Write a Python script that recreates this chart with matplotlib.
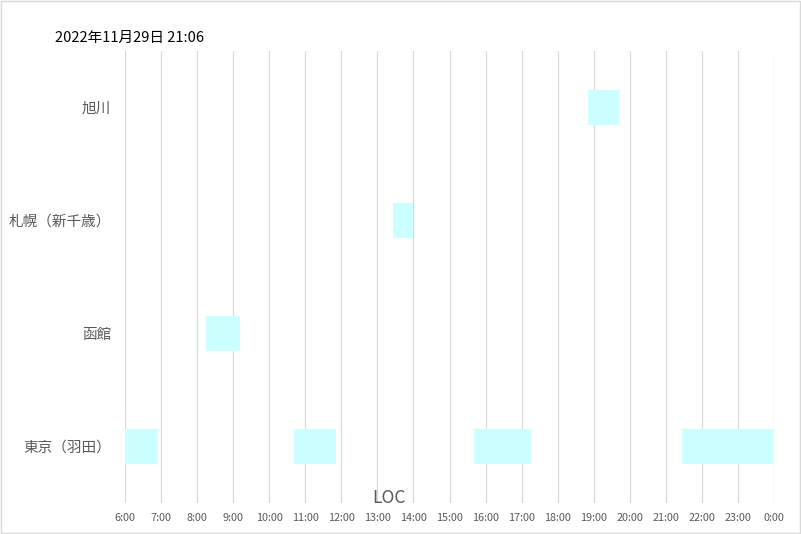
import matplotlib.pyplot as plt
from matplotlib.patches import Rectangle

plt.rcParams['font.family'] = ['Noto Sans CJK JP', 'DejaVu Sans']

# 空港（下から上の順）
airports = ['東京（羽田）', '函館', '札幌（新千歳）', '旭川']

# 各空港の時間帯（開始, 終了）[時]
tokyo_start = [6.0, 10.68, 15.68, 21.45]
tokyo_end = [6.92, 11.85, 17.25, 24.0]
hakodate_start = [8.25]
hakodate_end = [9.18]
sapporo_start = [13.43]
sapporo_end = [14.0]
asahikawa_start = [18.83]
asahikawa_end = [19.7]

hours = list(range(6, 25))
hour_labels = [f"{h % 24}:00" for h in hours]

title = "2022年11月29日 21:06"
axis_title = "LOC"

starts = [tokyo_start, hakodate_start, sapporo_start, asahikawa_start]
ends = [tokyo_end, hakodate_end, sapporo_end, asahikawa_end]

fig = plt.figure(figsize=(8.01, 5.34), dpi=100)
ax = fig.add_axes([125 / 801, 1 - 503 / 534, (774 - 125) / 801, (503 - 51) / 534])

for i, (s, e) in enumerate(zip(starts, ends)):
    widths = [b - a for a, b in zip(s, e)]
    ax.barh([i] * len(s), widths, left=s, height=0.31, color='#CCFFFF', zorder=2)

ax.set_xlim(6, 24)
ax.set_ylim(-0.5, 3.5)
ax.set_xticks(hours)
ax.set_xticklabels(hour_labels, fontsize=7.8, color='#595959')
ax.tick_params(axis='x', length=0, pad=7.5)
ax.set_yticks(range(len(airports)))
ax.set_yticklabels(airports, fontsize=10.5, color='#595959')
ax.tick_params(axis='y', length=0, pad=10)
ax.grid(axis='x', color='#D9D9D9', linewidth=0.9, zorder=0)
ax.set_axisbelow(True)
for sp in ax.spines.values():
    sp.set_visible(False)

fig.text(55 / 801, 1 - 38 / 534, title, fontsize=10.5, color='black', va='center', ha='left',
         bbox=dict(facecolor='white', edgecolor='none', pad=3), zorder=5)
fig.text(389 / 801, 1 - 498 / 534, axis_title, fontsize=12.5, color='#595959', ha='center', va='center')

# グラフ枠
fig.patches.append(Rectangle((0.5 / 801, 1.5 / 534), 799.5 / 801, 532 / 534, transform=fig.transFigure,
                             fill=False, edgecolor='#D9D9D9', linewidth=1.0))

fig.savefig('out.png', dpi=100)
